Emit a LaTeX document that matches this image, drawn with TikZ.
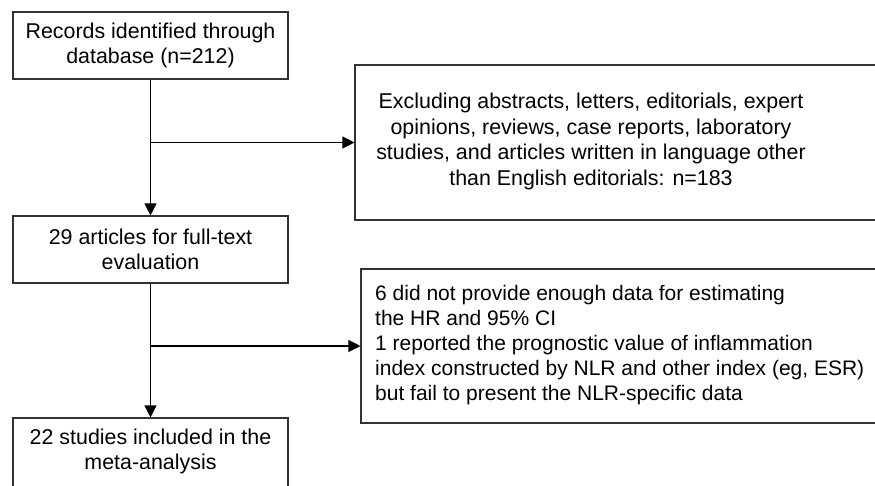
\documentclass[tikz,border=0pt]{standalone}
\usepackage{fontspec}
\setmainfont{Liberation Sans}
\usetikzlibrary{arrows.meta}
\definecolor{boxline}{HTML}{333333}
\begin{document}
\begin{tikzpicture}[x=1pt,y=-1pt,
  box/.style={draw=boxline,line width=1.1pt,rectangle,inner sep=0pt},
  txt/.style={font=\fontsize{21.4}{25.6}\selectfont,inner sep=0pt,align=center},
  ltxt/.style={font=\fontsize{21}{25.2}\selectfont,inner sep=0pt,align=left},
  arr/.style={line width=1.1pt,-{Triangle[length=12pt,width=12pt]}},
  ln/.style={line width=1.1pt}]
\useasboundingbox (0,0) rectangle (875,485);
\clip (0,0) rectangle (875,485);
\fill[white] (0,0) rectangle (875,485);
% boxes
\node[box,minimum width=275pt,minimum height=67pt] (b1) at (150.5,45.5) {};
\node[txt] (t1) at (b1.center) {Records identified through\\database (n=212)};
\node[box,minimum width=275pt,minimum height=67pt] (b3) at (150.5,249.5) {};
\node[txt] (t3) at (b3.center) {29 articles for full-text\\evaluation};
\node[box,minimum width=275pt,minimum height=70pt] (b5) at (150.5,453) {};
\node[txt] (t5) at (150.5,451.5) {22 studies included in the\\meta-analysis};
\node[box,minimum width=540pt,minimum height=155pt] (b2) at (625,142.5) {};
\node[txt] (t2) at (591,141.5) {Excluding abstracts, letters, editorials, expert\\opinions, reviews, case reports, laboratory\\studies, and articles written in language other\\than English editorials: n=183};
\node[box,minimum width=530pt,minimum height=154pt] (b4) at (626,346) {};
\node[ltxt,anchor=west] (t4) at (375,345) {6 did not provide enough data for estimating\\the HR and 95\% CI\\1 reported the prognostic value of inflammation\\index constructed by NLR and other index (eg, ESR)\\but fail to present the NLR-specific data};
% connectors
\draw[arr] (b1.south) -- (b3.north);
\draw[arr] (b3.south) -- (b5.north);
\coordinate (j1) at (b1.south |- b2.west);
\coordinate (j2) at (b3.south |- b4.west);
\draw[arr] (j1) -- (b2.west);
\draw[arr] (j2) -- (b4.west);
\end{tikzpicture}
\end{document}
